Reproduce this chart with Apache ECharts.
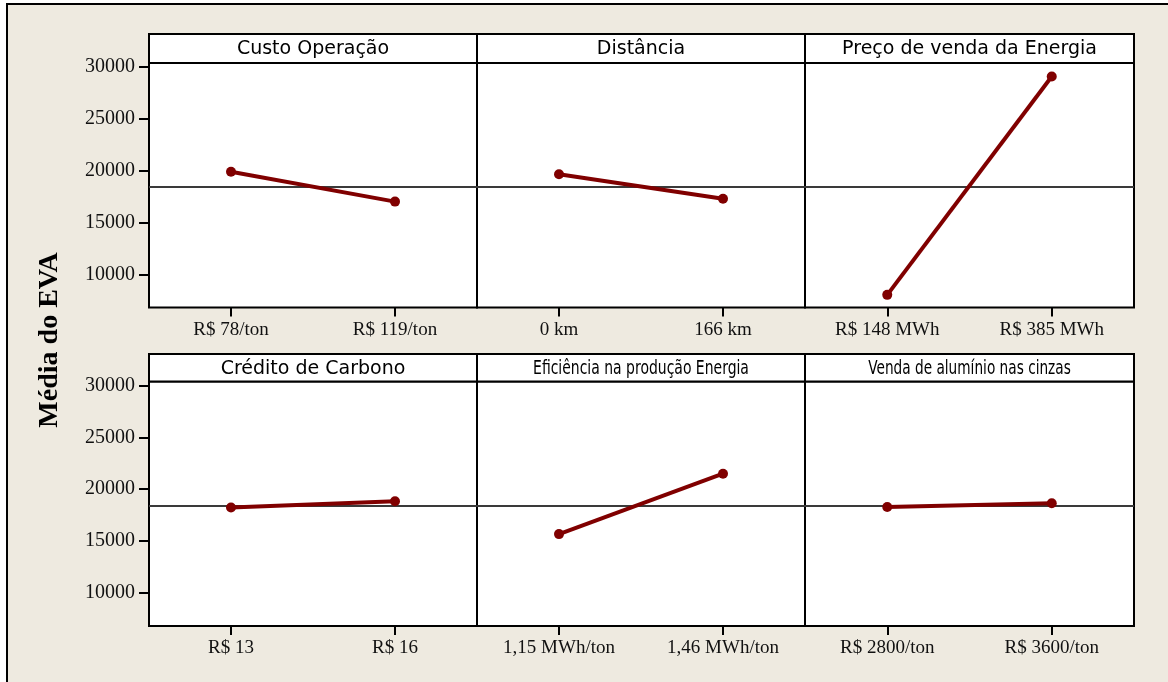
<!DOCTYPE html>
<html>
<head>
<meta charset="utf-8">
<script src="https://cdn.jsdelivr.net/npm/echarts@6/dist/echarts.min.js"></script>
<style>
  html, body { margin: 0; padding: 0; background: #ffffff; }
  #chart { width: 1168px; height: 682px; }
</style>
</head>
<body>
<div id="chart"></div>
<script>
// Main effects of each factor on the mean EVA
const factorNames = [
  'Custo Operação',
  'Distância',
  'Preço de venda da Energia',
  'Crédito de Carbono',
  'Eficiência na produção Energia',
  'Venda de alumínio nas cinzas'
];
const levelLabels = [
  ['R$ 78/ton', 'R$ 119/ton'],
  ['0 km', '166 km'],
  ['R$ 148 MWh', 'R$ 385 MWh'],
  ['R$ 13', 'R$ 16'],
  ['1,15 MWh/ton', '1,46 MWh/ton'],
  ['R$ 2800/ton', 'R$ 3600/ton']
];
const meanEVA = [
  [19900, 17020],
  [19670, 17300],
  [8020, 29090],
  [18230, 18840],
  [15670, 21500],
  [18290, 18650]
];
const grandMean = 18420;
const yTicks = [10000, 15000, 20000, 25000, 30000];
const yMin = 6800;
const yMax = 30400;
const yAxisTitle = 'Média do EVA';

// Panel layout (3 columns x 2 rows)
const colLeft = [149, 477, 805];
const colWidth = [328, 328, 329];
const headerTop = [34, 354];
const plotTop = [63, 381.5];
const plotHeight = 244.5;
const titleScaleX = [1, 1, 1, 1, 0.735, 0.72];

const grids = [], xAxes = [], yAxes = [], series = [], graphics = [];

// page background with frame
graphics.push({
  type: 'rect', z: -100, silent: true,
  shape: { x: 7, y: 4, width: 1200, height: 720 },
  style: { fill: '#EEEAE0', stroke: '#000000', lineWidth: 2 }
});

factorNames.forEach((name, i) => {
  const col = i % 3, row = Math.floor(i / 3);
  const left = colLeft[col], top = plotTop[row], w = colWidth[col];
  grids.push({
    left: left, top: top, width: w, height: plotHeight,
    show: true, backgroundColor: '#ffffff', borderColor: '#000000', borderWidth: 2
  });
  xAxes.push({
    type: 'category', gridIndex: i, data: levelLabels[i], boundaryGap: true,
    axisLine: { show: false },
    axisTick: { show: true, alignWithLabel: true, length: 9, lineStyle: { color: '#000', width: 2 } },
    axisLabel: { fontFamily: 'Liberation Serif', fontSize: 19, color: '#111', margin: 13 },
    splitLine: { show: false }
  });
  yAxes.push({
    type: 'value', gridIndex: i, min: yMin, max: yMax,
    axisLine: { show: false },
    axisTick: { show: col === 0, customValues: yTicks, length: 10, lineStyle: { color: '#000', width: 2 } },
    axisLabel: {
      show: col === 0, customValues: yTicks, fontFamily: 'Liberation Serif', fontSize: 20,
      color: '#111', margin: 14, formatter: v => String(v)
    },
    splitLine: { show: false }
  });
  series.push({
    type: 'line', xAxisIndex: i, yAxisIndex: i, data: meanEVA[i], z: 5,
    color: '#800000',
    lineStyle: { color: '#800000', width: 4 },
    itemStyle: { color: '#800000' },
    symbol: 'circle', symbolSize: 10, showSymbol: true,
    animation: false,
    markLine: {
      silent: true, symbol: 'none', z: 2, animation: false,
      label: { show: false },
      lineStyle: { color: '#3a3a3a', width: 2, type: 'solid' },
      data: [{ yAxis: grandMean }]
    }
  });
  // panel header strip with factor name
  graphics.push({
    type: 'rect', z: 3, silent: true,
    shape: { x: left, y: headerTop[row], width: w, height: top - headerTop[row] },
    style: { fill: '#ffffff', stroke: '#000000', lineWidth: 2 }
  });
  graphics.push({
    type: 'text', z: 4, silent: true,
    x: left + w / 2, y: (headerTop[row] + top) / 2 + 1,
    scaleX: titleScaleX[i],
    style: {
      text: name, fontFamily: 'DejaVu Sans', fontSize: 19, fill: '#000',
      align: 'center', verticalAlign: 'middle'
    }
  });
});

// shared y axis title
graphics.push({
  type: 'text', z: 4, silent: true,
  x: 50, y: 340, rotation: Math.PI / 2,
  style: {
    text: yAxisTitle, fontFamily: 'Liberation Serif', fontWeight: 'bold', fontSize: 28,
    fill: '#000', align: 'center', verticalAlign: 'middle'
  }
});

const chart = echarts.init(document.getElementById('chart'), null, { renderer: 'canvas' });
chart.setOption({
  backgroundColor: '#ffffff',
  animation: false,
  grid: grids,
  xAxis: xAxes,
  yAxis: yAxes,
  series: series,
  graphic: graphics
});
</script>
</body>
</html>
